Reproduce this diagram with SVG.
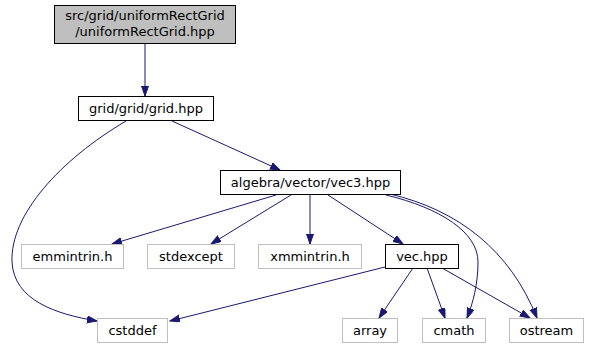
<svg xmlns="http://www.w3.org/2000/svg" width="590" height="351" viewBox="0 0 590 351">
  <style>
    .box { fill: #ffffff; stroke: #000000; stroke-width: 1; }
    .ext { fill: #ffffff; stroke: #bfbfbf; stroke-width: 1; }
    .cur { fill: #bfbfbf; stroke: #000000; stroke-width: 1; }
    text { font-family: "DejaVu Sans", "Liberation Sans", sans-serif; font-size: 13px; fill: #000000; text-anchor: middle; }
    .edge { fill: none; stroke: #191970; stroke-width: 1; marker-end: url(#arrow); }
  </style>
  <defs>
    <marker id="arrow" markerUnits="userSpaceOnUse" markerWidth="11" markerHeight="8" refX="10" refY="3.5" orient="auto">
      <path d="M0,0 L10,3.5 L0,7 z" fill="#191970" stroke="#191970" stroke-width="1"/>
    </marker>
  </defs>

  <g id="edges">
    <path class="edge" d="M145,44 L145,96"/>
    <path class="edge" d="M172,121 L280,170"/>
    <path class="edge" d="M126,121 C60,160 10,215 12,262 C14,300 55,314 97,321"/>
    <path class="edge" d="M276,195 L112,244"/>
    <path class="edge" d="M291,195 L211,244"/>
    <path class="edge" d="M310,195 L310,244"/>
    <path class="edge" d="M328,195 L403,244"/>
    <path class="edge" d="M386,195 C440,208 478,232 478,262 C478,284 473,303 467,318"/>
    <path class="edge" d="M390,194 C458,210 510,250 537,318"/>
    <path class="edge" d="M385,267 L170,321"/>
    <path class="edge" d="M413,268 L379,318"/>
    <path class="edge" d="M427,268 L445,318"/>
    <path class="edge" d="M442,268 L530,318"/>
  </g>

  <g id="node-uniformRectGrid">
    <rect class="cur" x="54.5" y="5.5" width="181" height="38"/>
    <text x="145" y="20">src/grid/uniformRectGrid</text>
    <text x="145" y="36">/uniformRectGrid.hpp</text>
  </g>
  <g id="node-grid">
    <rect class="box" x="78.5" y="96.5" width="135" height="24"/>
    <text x="146" y="113">grid/grid/grid.hpp</text>
  </g>
  <g id="node-vec3">
    <rect class="box" x="220.5" y="170.5" width="180" height="24"/>
    <text x="310.5" y="187">algebra/vector/vec3.hpp</text>
  </g>
  <g id="node-emmintrin">
    <rect class="ext" x="21.5" y="244.5" width="102" height="24"/>
    <text x="72.5" y="261">emmintrin.h</text>
  </g>
  <g id="node-stdexcept">
    <rect class="ext" x="147.5" y="244.5" width="87" height="24"/>
    <text x="191" y="261">stdexcept</text>
  </g>
  <g id="node-xmmintrin">
    <rect class="ext" x="258.5" y="244.5" width="103" height="24"/>
    <text x="310" y="261">xmmintrin.h</text>
  </g>
  <g id="node-vec">
    <rect class="box" x="385.5" y="244.5" width="73" height="24"/>
    <text x="422" y="261">vec.hpp</text>
  </g>
  <g id="node-cstddef">
    <rect class="ext" x="97.5" y="318.5" width="70" height="24"/>
    <text x="132.5" y="335">cstddef</text>
  </g>
  <g id="node-array">
    <rect class="ext" x="342.5" y="318.5" width="55" height="24"/>
    <text x="370" y="335">array</text>
  </g>
  <g id="node-cmath">
    <rect class="ext" x="422.5" y="318.5" width="63" height="24"/>
    <text x="454" y="335">cmath</text>
  </g>
  <g id="node-ostream">
    <rect class="ext" x="509.5" y="318.5" width="74" height="24"/>
    <text x="546.5" y="335">ostream</text>
  </g>
</svg>
